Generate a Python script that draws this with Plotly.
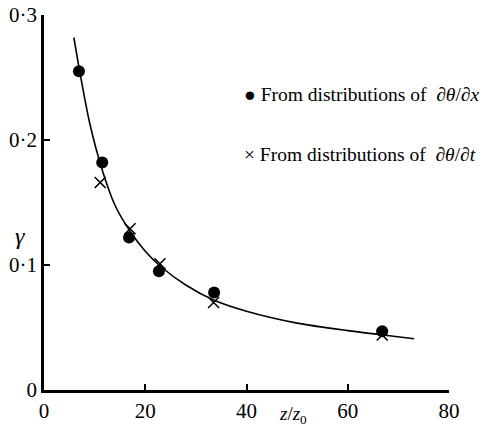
import plotly.graph_objects as go

# Data
dot_x = [6.9, 11.5, 16.8, 22.7, 33.6, 66.8]
dot_y = [0.255, 0.182, 0.122, 0.095, 0.078, 0.047]
cross_x = [11.1, 17.0, 22.9, 33.5, 66.8]
cross_y = [0.166, 0.129, 0.101, 0.070, 0.044]
curve_x = [5.9, 7.0, 9.0, 11.5, 14.0, 17.0, 20.0, 23.0, 28.0, 33.5, 40.0, 50.0, 60.0, 67.0, 73.1]
curve_y = [0.282, 0.256, 0.214, 0.176, 0.148, 0.127, 0.111, 0.099, 0.084, 0.072, 0.0630, 0.0535, 0.0475, 0.0440, 0.0410]
x_ticks = [0, 20, 40, 60, 80]
y_ticks = [0, 0.1, 0.2, 0.3]
y_tick_text = ["0", "0·1", "0·2", "0·3"]
legend_labels = ["From distributions of  ∂<i>θ</i>/∂<i>x</i>", "From distributions of  ∂<i>θ</i>/∂<i>t</i>"]
legend_symbols = ["●", "×"]

SERIF = "Liberation Serif, Times New Roman, DejaVu Serif, serif"

fig = go.Figure()
fig.add_trace(go.Scatter(x=curve_x, y=curve_y, mode="lines",
                         line=dict(color="black", width=1.6, shape="spline", smoothing=0.8),
                         showlegend=False, hoverinfo="skip"))
fig.add_trace(go.Scatter(x=dot_x, y=dot_y, mode="markers", showlegend=False,
                         marker=dict(symbol="circle", size=12, color="black")))
fig.add_trace(go.Scatter(x=cross_x, y=cross_y, mode="markers", showlegend=False,
                         marker=dict(symbol="x-thin", size=11, color="black", line=dict(width=1.6, color="black"))))

annotations = [
    dict(text="<i>γ</i>", xref="paper", yref="paper", x=-0.06, y=0.41, showarrow=False,
         font=dict(size=24, family=SERIF, color="black"), xanchor="center", yanchor="middle"),
    dict(text="<i>z</i>/<i>z</i><sub>0</sub>", xref="paper", yref="paper", x=0.615, y=-0.066, showarrow=False,
         font=dict(size=19, family=SERIF, color="black"), xanchor="center", yanchor="middle"),
]
for i, (sym, lab) in enumerate(zip(legend_symbols, legend_labels)):
    annotations.append(dict(text=sym + " " + lab, xref="paper", yref="paper",
                            x=0.49, y=0.787 - i * 0.16, showarrow=False,
                            xanchor="left", yanchor="middle",
                            font=dict(size=19.5, family=SERIF, color="black")))

fig.update_layout(
    width=496, height=429,
    margin=dict(l=44, r=47, t=15, b=39),
    paper_bgcolor="white", plot_bgcolor="white",
    font=dict(family=SERIF, color="black", size=17),
    showlegend=False,
    xaxis=dict(range=[0, 80], tickvals=x_ticks, ticks="inside", ticklen=6, tickwidth=1.5, tickcolor="black",
               showline=True, linecolor="black", linewidth=2.5, showgrid=False, zeroline=False,
               automargin=False, tickfont=dict(size=21, family=SERIF, color="black")),
    yaxis=dict(range=[0, 0.3], tickvals=y_ticks, ticktext=y_tick_text, ticks="inside", ticklen=6, tickwidth=1.5,
               tickcolor="black", automargin=False,
               showline=True, linecolor="black", linewidth=2.5, showgrid=False, zeroline=False,
               tickfont=dict(size=21, family=SERIF, color="black")),
    annotations=annotations,
)

fig.write_html("out.html")
